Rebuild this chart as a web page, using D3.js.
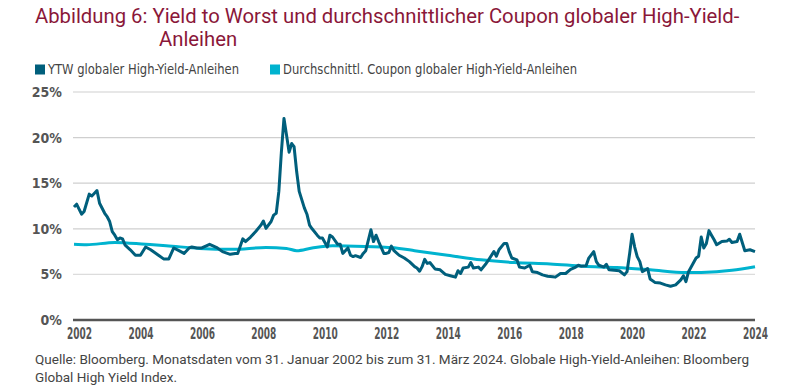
<!DOCTYPE html>
<html>
<head>
<meta charset="utf-8">
<script src="https://cdn.jsdelivr.net/npm/d3@7"></script>
<style>
  body { margin: 0; background: #fff; }
  svg { display: block; }
</style>
</head>
<body>
<svg id="chart" width="800" height="387"></svg>
<script>
// Yield to Worst, monthly readings (month, %)
const ytw = [
  ["2002-01", 12.4], ["2002-02", 12.7], ["2002-04", 11.6], ["2002-05", 11.9], ["2002-07", 13.8],
  ["2002-08", 13.6], ["2002-09", 13.9], ["2002-10", 14.2], ["2002-11", 12.8], ["2003-01", 11.7],
  ["2003-02", 11.3], ["2003-03", 10.8], ["2003-04", 9.7], ["2003-05", 9.3], ["2003-06", 8.8],
  ["2003-07", 9.0], ["2003-08", 8.9], ["2003-09", 8.2], ["2003-11", 7.7], ["2004-01", 7.1],
  ["2004-03", 7.1], ["2004-05", 8.0], ["2004-07", 7.7], ["2004-10", 7.1], ["2004-12", 6.7],
  ["2005-02", 6.7], ["2005-04", 7.9], ["2005-06", 7.6], ["2005-08", 7.3], ["2005-10", 7.9],
  ["2005-11", 8.0], ["2006-01", 7.9], ["2006-03", 7.9], ["2006-06", 8.3], ["2006-09", 7.9],
  ["2006-11", 7.5], ["2007-02", 7.2], ["2007-04", 7.3], ["2007-05", 7.3], ["2007-07", 8.9],
  ["2007-08", 8.6], ["2007-10", 9.1], ["2007-12", 9.7], ["2008-02", 10.4], ["2008-03", 10.85],
  ["2008-04", 10.05], ["2008-06", 10.8], ["2008-07", 11.5], ["2008-08", 11.7], ["2008-09", 14.1],
  ["2008-10", 18.4], ["2008-11", 22.1], ["2008-12", 20.3], ["2009-01", 18.4], ["2009-02", 19.35],
  ["2009-03", 19.0], ["2009-04", 16.25], ["2009-05", 14.1], ["2009-07", 12.3], ["2009-08", 11.6],
  ["2009-09", 10.4], ["2009-10", 10.0], ["2009-12", 9.3], ["2010-01", 9.0], ["2010-02", 9.0],
  ["2010-04", 8.0], ["2010-05", 9.3], ["2010-06", 9.1], ["2010-08", 8.3], ["2010-09", 8.3],
  ["2010-10", 7.3], ["2010-12", 7.9], ["2011-01", 7.1], ["2011-02", 6.95], ["2011-03", 7.05],
  ["2011-05", 6.85], ["2011-06", 7.3], ["2011-07", 7.6], ["2011-09", 9.9], ["2011-10", 8.6],
  ["2011-11", 9.3], ["2011-12", 8.6], ["2012-02", 7.3], ["2012-03", 7.3], ["2012-04", 7.4],
  ["2012-05", 8.1], ["2012-06", 7.6], ["2012-08", 7.1], ["2012-10", 6.8], ["2012-12", 6.4],
  ["2013-02", 5.85], ["2013-03", 5.7], ["2013-04", 5.35], ["2013-05", 5.85], ["2013-06", 6.65],
  ["2013-07", 6.2], ["2013-08", 6.3], ["2013-10", 5.6], ["2013-12", 5.5], ["2014-02", 5.0],
  ["2014-04", 4.85], ["2014-06", 4.7], ["2014-07", 5.4], ["2014-08", 5.1], ["2014-09", 5.7],
  ["2014-11", 5.8], ["2014-12", 6.3], ["2015-01", 5.7], ["2015-03", 5.8], ["2015-04", 5.5],
  ["2015-06", 6.2], ["2015-07", 6.6], ["2015-09", 7.5], ["2015-10", 7.0], ["2015-11", 7.7],
  ["2016-01", 8.4], ["2016-02", 8.4], ["2016-03", 7.5], ["2016-04", 6.8], ["2016-06", 6.6],
  ["2016-07", 5.8], ["2016-09", 5.7], ["2016-11", 6.0], ["2016-12", 5.3], ["2017-02", 5.2],
  ["2017-04", 4.95], ["2017-06", 4.8], ["2017-08", 4.75], ["2017-09", 4.7], ["2017-11", 5.1],
  ["2018-01", 5.1], ["2018-03", 5.55], ["2018-05", 5.8], ["2018-06", 6.0], ["2018-07", 5.9],
  ["2018-09", 5.95], ["2018-10", 6.75], ["2018-12", 7.5], ["2019-01", 6.4], ["2019-02", 6.0],
  ["2019-04", 5.8], ["2019-05", 6.1], ["2019-06", 5.5], ["2019-08", 5.45], ["2019-10", 5.4],
  ["2019-12", 4.95], ["2020-01", 5.3], ["2020-02", 7.3], ["2020-03", 9.4], ["2020-04", 8.0],
  ["2020-05", 6.95], ["2020-06", 6.4], ["2020-07", 5.3], ["2020-08", 5.45], ["2020-09", 5.65],
  ["2020-10", 4.5], ["2020-12", 4.1], ["2021-02", 4.05], ["2021-04", 3.85], ["2021-06", 3.7],
  ["2021-08", 3.85], ["2021-10", 4.4], ["2021-11", 4.85], ["2021-12", 4.2], ["2022-01", 5.3],
  ["2022-02", 5.8], ["2022-04", 6.8], ["2022-05", 7.0], ["2022-06", 9.1], ["2022-07", 7.9],
  ["2022-08", 8.4], ["2022-09", 9.8], ["2022-10", 9.3], ["2022-11", 8.8], ["2022-12", 8.25],
  ["2023-02", 8.6], ["2023-04", 8.65], ["2023-05", 8.85], ["2023-06", 8.5], ["2023-08", 8.6],
  ["2023-09", 9.4], ["2023-11", 7.6], ["2024-01", 7.7], ["2024-03", 7.5]
];

// average coupon, readings (month, %)
const coupon = [
  ["2002-01", 8.3], ["2002-06", 8.25], ["2003-05", 8.5], ["2004-05", 8.3], ["2005-01", 8.15],
  ["2006-02", 7.85], ["2007-03", 7.75], ["2008-04", 7.95], ["2008-12", 7.85], ["2009-04", 7.6],
  ["2009-10", 7.9], ["2010-06", 8.15], ["2011-07", 8.05], ["2012-08", 7.85], ["2013-02", 7.6],
  ["2013-07", 7.4], ["2014-03", 7.1], ["2015-04", 6.6], ["2016-05", 6.3], ["2017-07", 6.15],
  ["2018-08", 5.9], ["2019-09", 5.75], ["2020-10", 5.5], ["2021-12", 5.2], ["2022-12", 5.3],
  ["2023-06", 5.45], ["2024-03", 5.85]
];

const yearTicks = [2002, 2004, 2006, 2008, 2010, 2012, 2014, 2016, 2018, 2020, 2022, 2024];
const pctTicks = [0, 5, 10, 15, 20, 25];

const titleLines = ["Abbildung 6: Yield to Worst und durchschnittlicher Coupon globaler High-Yield-", "Anleihen"];
const legendItems = [
  { label: "YTW globaler High-Yield-Anleihen", color: "#005f7c" },
  { label: "Durchschnittl. Coupon globaler High-Yield-Anleihen", color: "#00b3cf" }
];
const sourceLines = [
  "Quelle: Bloomberg. Monatsdaten vom 31. Januar 2002 bis zum 31. März 2024. Globale High-Yield-Anleihen: Bloomberg",
  "Global High Yield Index."
];

const svg = d3.select("#chart");
const parse = d3.timeParse("%Y-%m");
const narrow = "'Liberation Sans Narrow', 'DejaVu Sans Condensed', Roboto, sans-serif";

const margin = { left: 74, right: 45, top: 92, bottom: 67 };
const W = 800, H = 387;

const x = d3.scaleTime()
  .domain([parse("2002-01"), parse("2024-03")])
  .range([margin.left, W - margin.right]);
const y = d3.scaleLinear()
  .domain([0, 25])
  .range([H - margin.bottom, margin.top]);

// title
svg.append("text")
  .attr("x", 35).attr("y", 23)
  .attr("fill", "#8a1739")
  .style("font-family", "Roboto, sans-serif")
  .style("font-size", "20.3px")
  .text(titleLines[0]);
svg.append("text")
  .attr("x", 159).attr("y", 46)
  .attr("fill", "#8a1739")
  .style("font-family", "Roboto, sans-serif")
  .style("font-size", "20.3px")
  .text(titleLines[1]);

// legend
const legX = [35, 270];
const legW = [191, 294];
legendItems.forEach((d, i) => {
  svg.append("rect")
    .attr("x", legX[i]).attr("y", 64.5)
    .attr("width", 10).attr("height", 10)
    .attr("fill", d.color);
  svg.append("text")
    .attr("x", legX[i] + 13).attr("y", 74)
    .attr("fill", "#444")
    .attr("textLength", legW[i])
    .attr("lengthAdjust", "spacingAndGlyphs")
    .style("font-family", narrow)
    .style("font-size", "14px")
    .text(d.label);
});

// grid
svg.append("g")
  .selectAll("line")
  .data(pctTicks.filter(d => d > 0))
  .join("line")
  .attr("x1", margin.left - 1).attr("x2", W - margin.right)
  .attr("y1", d => y(d)).attr("y2", d => y(d))
  .attr("stroke", d => (d === 5 ? "#dcdcdc" : "#cfcfcf"))
  .attr("stroke-width", 1.2);

// y labels
svg.append("g")
  .selectAll("text")
  .data(pctTicks)
  .join("text")
  .attr("x", 62)
  .attr("y", d => y(d))
  .attr("dy", "0.35em")
  .attr("text-anchor", "end")
  .attr("fill", "#555")
  .style("font-family", narrow)
  .style("font-size", "14px")
  .style("font-weight", "bold")
  .text(d => d + "%");

// x axis
const xAxis = d3.axisBottom(x)
  .tickValues(yearTicks.map(yr => new Date(yr, 0, 1)))
  .tickFormat(d3.timeFormat("%Y"))
  .tickSize(0)
  .tickPadding(8);
const gx = svg.append("g")
  .attr("transform", `translate(0,${y(0)})`)
  .call(xAxis);
gx.select(".domain")
  .attr("d", `M${margin.left - 1},0H${W - margin.right}`)
  .attr("stroke", "#555")
  .attr("stroke-width", 2.5);
gx.selectAll("text")
  .attr("dx", 5)
  .attr("fill", "#555")
  .attr("textLength", 25)
  .attr("lengthAdjust", "spacingAndGlyphs")
  .style("font-family", narrow)
  .style("font-size", "15px")
  .style("font-weight", "bold");

// lines
const line = d3.line()
  .x(d => x(parse(d[0])))
  .y(d => y(d[1]));

svg.append("path")
  .datum(coupon)
  .attr("fill", "none")
  .attr("stroke", legendItems[1].color)
  .attr("stroke-width", 3)
  .attr("stroke-linejoin", "round")
  .attr("d", line.curve(d3.curveMonotoneX));

svg.append("path")
  .datum(ytw)
  .attr("fill", "none")
  .attr("stroke", legendItems[0].color)
  .attr("stroke-width", 3)
  .attr("stroke-linejoin", "round")
  .attr("d", line.curve(d3.curveLinear));

// source
sourceLines.forEach((t, i) => {
  const el = svg.append("text")
    .attr("x", 35).attr("y", 364 + i * 18)
    .attr("fill", "#444")
    .style("font-family", "Roboto, sans-serif")
    .style("font-size", "13.5px")
    .text(t);
  if (i === 0) el.attr("textLength", 714).attr("lengthAdjust", "spacingAndGlyphs");
});
</script>
</body>
</html>
